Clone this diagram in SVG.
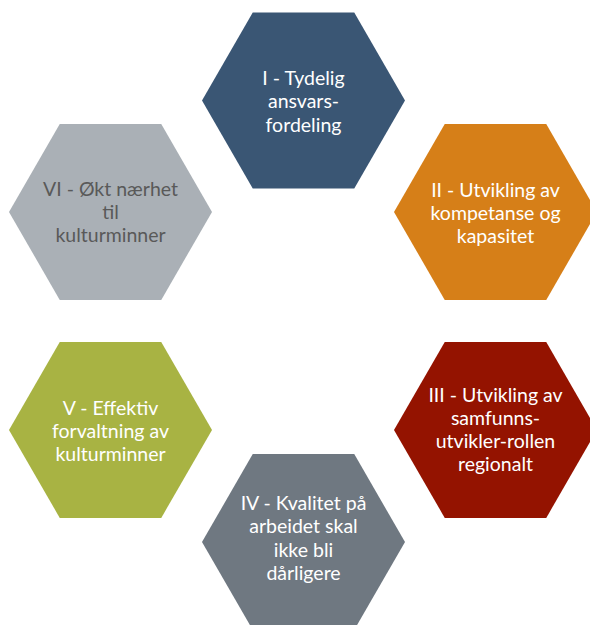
<svg xmlns="http://www.w3.org/2000/svg" xmlns:xlink="http://www.w3.org/1999/xlink" width="590" height="625" viewBox="0 0 590 625">
<defs>
<polygon id="hex" points="-101.5,0 -50.75,-87.9 50.75,-87.9 101.5,0 50.75,87.9 -50.75,87.9"/>
<style>
text{font-family:"Lato","Liberation Sans",sans-serif;font-size:19.5px;text-anchor:middle;fill:#ffffff}
.dark{fill:#595959}
</style>
</defs>
<rect width="590" height="625" fill="#ffffff"/>
<g id="connectors"></g>
<g id="node-I" transform="translate(303.5,100.5)">
<use href="#hex" fill="#3A5674"/>
<text><tspan x="0" y="-15.5">I - Tydelig</tspan><tspan x="0" y="7.5">ansvars-</tspan><tspan x="0" y="31">fordeling</tspan></text>
</g>
<g id="node-II" transform="translate(495.5,212)">
<use href="#hex" fill="#D67F18"/>
<text><tspan x="0" y="-15.5">II - Utvikling av</tspan><tspan x="0" y="7.5">kompetanse og</tspan><tspan x="0" y="31">kapasitet</tspan></text>
</g>
<g id="node-III" transform="translate(495.5,430)">
<use href="#hex" fill="#941300"/>
<text><tspan x="0" y="-28">III - Utvikling av</tspan><tspan x="0" y="-5">samfunns-</tspan><tspan x="0" y="18">utvikler-rollen</tspan><tspan x="0" y="40.5">regionalt</tspan></text>
</g>
<g id="node-IV" transform="translate(303.5,542)">
<use href="#hex" fill="#6F7881"/>
<text><tspan x="0" y="-32">IV - Kvalitet på</tspan><tspan x="0" y="-9">arbeidet skal</tspan><tspan x="0" y="14.5">ikke bli</tspan><tspan x="0" y="38">dårligere</tspan></text>
</g>
<g id="node-V" transform="translate(110.5,430)">
<use href="#hex" fill="#A8B343"/>
<text><tspan x="0" y="-15.5">V - Effektiv</tspan><tspan x="0" y="7.5">forvaltning av</tspan><tspan x="0" y="31">kulturminner</tspan></text>
</g>
<g id="node-VI" transform="translate(110.5,212)">
<use href="#hex" fill="#AAB0B6"/>
<text class="dark"><tspan x="0" y="-16">VI - Økt nærhet</tspan><tspan x="0" y="6.5">til</tspan><tspan x="0" y="30">kulturminner</tspan></text>
</g>
</svg>
